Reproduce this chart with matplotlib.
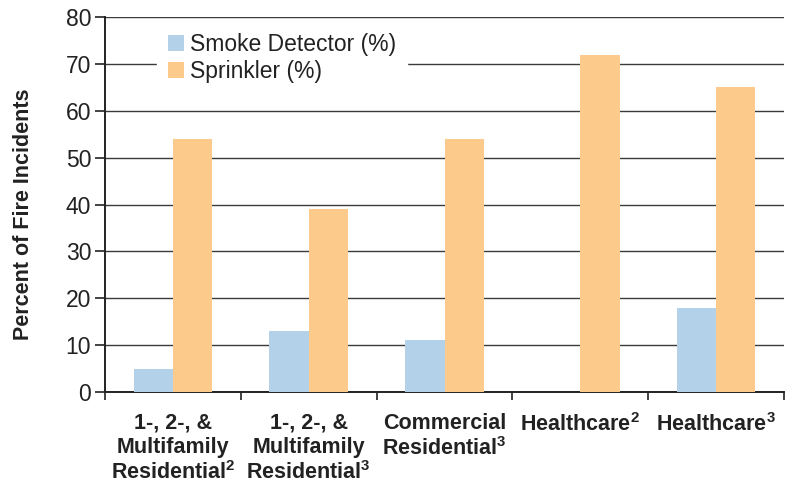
import matplotlib.pyplot as plt
import numpy as np

plt.rcParams['font.family'] = ['Liberation Sans', 'DejaVu Sans']
plt.rcParams['mathtext.fontset'] = 'custom'
plt.rcParams['mathtext.rm'] = 'Liberation Sans:bold'
plt.rcParams['mathtext.bf'] = 'Liberation Sans:bold'

categories = [
    "1-, 2-, &\nMultifamily\nResidential$^{2}$",
    "1-, 2-, &\nMultifamily\nResidential$^{3}$",
    "Commercial\nResidential$^{3}$",
    "Healthcare$^{2}$",
    "Healthcare$^{3}$",
]
smoke = [5, 13, 11, 0, 18]
sprinkler = [54, 39, 54, 72, 65]

c_smoke = '#b3d1e8'
c_sprink = '#fccb8c'

fig = plt.figure(figsize=(7.91, 4.93), dpi=100)
ax = fig.add_axes([105 / 791, 1 - 392 / 493, 679 / 791, 375 / 493])

x = np.arange(len(categories)) + 0.5
w = 0.29
ax.bar(x - w / 2, smoke, w, color=c_smoke, label='Smoke Detector (%)', zorder=3)
ax.bar(x + w / 2, sprinkler, w, color=c_sprink, label='Sprinkler (%)', zorder=3)

ax.set_xlim(0, len(categories))
ax.set_ylim(0, 80)
ax.set_yticks(range(0, 81, 10))
ax.yaxis.grid(True, color='#3a3a3a', linewidth=1.0, zorder=0)
ax.set_axisbelow(True)

ax.set_xticks(range(len(categories) + 1))
ax.set_xticklabels([])
ax.set_xticks(x, minor=True)
ax.set_xticklabels(categories, minor=True, fontsize=15.5, fontweight='bold',
                   linespacing=1.18, color='#222222')
ax.tick_params(axis='x', which='minor', length=0, pad=15)
ax.tick_params(axis='x', which='major', length=6, width=1.2, color='#222222')
ax.tick_params(axis='y', length=7, width=1.2, color='#222222', labelsize=16.5, pad=3)
for lbl in ax.get_yticklabels():
    lbl.set_color('#222222')

for s in ['top', 'right']:
    ax.spines[s].set_visible(False)
for s in ['left', 'bottom']:
    ax.spines[s].set_color('#222222')
    ax.spines[s].set_linewidth(1.4)

ax.set_ylabel('Percent of Fire Incidents', fontsize=15.5, fontweight='bold',
              color='#222222')
ax.yaxis.set_label_coords(-0.104, 0.475)

leg = ax.legend(loc='upper left', bbox_to_anchor=(0.06, 1.015), frameon=True,
                fontsize=16.5, handlelength=0.7, handleheight=0.7, handletextpad=0.3,
                labelspacing=0.15, borderpad=0.45, fancybox=False)
leg.get_frame().set_edgecolor('white')
leg.get_frame().set_facecolor('white')
leg.get_frame().set_alpha(1)
leg.set_zorder(5)
for t in leg.get_texts():
    t.set_color('#222222')

fig.savefig('out.png', dpi=100)
